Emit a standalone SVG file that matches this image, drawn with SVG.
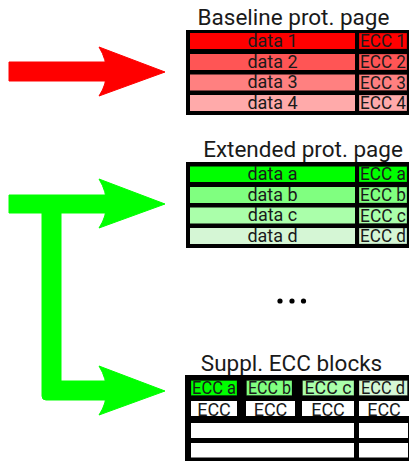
<svg xmlns="http://www.w3.org/2000/svg" width="409" height="461" viewBox="0 0 409 461">
<style>
text{font-family:Roboto,"Liberation Sans",sans-serif;fill:#1a1a1a}
.title{font-size:22.5px;text-anchor:middle}
.cell{font-size:18px;text-anchor:middle}
.big{font-size:17.5px;text-anchor:middle}
.frame{fill:#000}
.ecc{stroke:#000;stroke-opacity:.35;stroke-width:.8}
.w{fill:#fff}
</style>
<rect width="409" height="461" fill="#fff"/>
<g id="connectors">
  <g id="red-arrow" fill="#ff0000" stroke="#ff0000" stroke-width="1" stroke-linejoin="round">
    <rect x="9" y="62" width="97" height="19"/>
    <path d="M99,47 L165,72 L99,96 Q107,84 106,72 Q107,60 99,47 Z"/>
  </g>
  <g id="green-arrows" fill="#00ff00" stroke="#00ff00" stroke-width="1" stroke-linejoin="round">
    <rect x="9" y="195" width="97" height="18"/>
    <path d="M42,213 H61 V381 H106 V400 H46 Q42,400 42,396 Z"/>
    <path d="M99,179 L165,204 L99,228 Q107,216 106,204 Q107,192 99,179 Z"/>
    <path d="M99,366 L165,391 L99,415 Q107,403 106,391 Q107,379 99,366 Z"/>
  </g>
</g>
<g id="baseline-page">
  <text class="title" x="293.5" y="25">Baseline prot. page</text>
  <rect class="frame" x="186" y="30" width="223" height="85"/>
  <rect x="190" y="33" width="165" height="16" fill="#ff0000"/>
  <rect x="190" y="54" width="165" height="16" fill="#ff5555"/>
  <rect x="190" y="74.5" width="165" height="16" fill="#ff8080"/>
  <rect x="190" y="95" width="165" height="16" fill="#ffaaaa"/>
  <rect class="ecc" x="359" y="33" width="48" height="16" fill="#ff0000"/>
  <rect class="ecc" x="359" y="54" width="48" height="16" fill="#ff5555"/>
  <rect class="ecc" x="359" y="74.5" width="48" height="16" fill="#ff8080"/>
  <rect class="ecc" x="359" y="95" width="48" height="16" fill="#ffaaaa"/>
  <text class="cell" x="272.5" y="46.5">data 1</text>
  <text class="cell" x="272.5" y="67.5">data 2</text>
  <text class="cell" x="272.5" y="88">data 3</text>
  <text class="cell" x="272.5" y="108.5">data 4</text>
  <text class="cell" x="383" y="47" textLength="46" lengthAdjust="spacingAndGlyphs">ECC 1</text>
  <text class="cell" x="383" y="68" textLength="46" lengthAdjust="spacingAndGlyphs">ECC 2</text>
  <text class="cell" x="383" y="88.5" textLength="46" lengthAdjust="spacingAndGlyphs">ECC 3</text>
  <text class="cell" x="383" y="109" textLength="46" lengthAdjust="spacingAndGlyphs">ECC 4</text>
</g>
<g id="extended-page">
  <text class="title" x="303" y="157">Extended prot. page</text>
  <rect class="frame" x="186" y="162" width="223" height="86"/>
  <rect x="190" y="166.5" width="165" height="15.5" fill="#00ff00"/>
  <rect x="190" y="187" width="165" height="16" fill="#80ff80"/>
  <rect x="190" y="207.5" width="165" height="16" fill="#aaffaa"/>
  <rect x="190" y="228" width="165" height="16" fill="#d5f6d5"/>
  <rect class="ecc" x="359" y="166.5" width="48" height="15.5" fill="#00ff00"/>
  <rect class="ecc" x="359" y="187" width="48" height="16" fill="#80ff80"/>
  <rect class="ecc" x="359" y="207.5" width="48" height="16" fill="#aaffaa"/>
  <rect class="ecc" x="359" y="228" width="48" height="16" fill="#d5f6d5"/>
  <text class="cell" x="272.5" y="179.5">data a</text>
  <text class="cell" x="272.5" y="200.5">data b</text>
  <text class="cell" x="272.5" y="221">data c</text>
  <text class="cell" x="272.5" y="241.5">data d</text>
  <text class="cell" x="383" y="180" textLength="46" lengthAdjust="spacingAndGlyphs">ECC a</text>
  <text class="cell" x="383" y="201" textLength="46" lengthAdjust="spacingAndGlyphs">ECC b</text>
  <text class="cell" x="383" y="221.5" textLength="46" lengthAdjust="spacingAndGlyphs">ECC c</text>
  <text class="cell" x="383" y="242" textLength="46" lengthAdjust="spacingAndGlyphs">ECC d</text>
</g>
<g id="ellipsis" fill="#000">
  <circle cx="280" cy="301" r="2.6"/>
  <circle cx="292" cy="301" r="2.6"/>
  <circle cx="303.5" cy="301" r="2.6"/>
</g>
<g id="suppl-ecc-blocks">
  <text class="title" x="291.5" y="371">Suppl. ECC blocks</text>
  <rect class="frame" x="185" y="375" width="224" height="86"/>
  <rect class="ecc" x="191" y="380.5" width="46" height="15" fill="#00ff00"/>
  <rect class="ecc" x="246.5" y="380.5" width="45.5" height="15" fill="#80ff80"/>
  <rect class="ecc" x="302.5" y="380.5" width="51.5" height="15" fill="#aaffaa"/>
  <rect class="ecc" x="359" y="380.5" width="48.5" height="15" fill="#d5f6d5"/>
  <text class="big" x="214" y="394" textLength="44" lengthAdjust="spacingAndGlyphs">ECC a</text>
  <text class="big" x="269.5" y="394" textLength="43" lengthAdjust="spacingAndGlyphs">ECC b</text>
  <text class="big" x="328" y="394" textLength="47" lengthAdjust="spacingAndGlyphs">ECC c</text>
  <text class="big" x="383" y="394" textLength="44" lengthAdjust="spacingAndGlyphs">ECC d</text>
  <rect class="w" x="191" y="401" width="46" height="15"/>
  <rect class="w" x="246" y="401" width="49" height="15"/>
  <rect class="w" x="302" y="401" width="52" height="15"/>
  <rect class="w" x="359" y="401" width="50" height="15"/>
  <text class="cell" x="214" y="416">ECC</text>
  <text class="cell" x="270.5" y="416">ECC</text>
  <text class="cell" x="328" y="416">ECC</text>
  <text class="cell" x="384" y="416">ECC</text>
  <rect class="w" x="191" y="423" width="163" height="15"/>
  <rect class="w" x="359" y="423" width="49" height="15"/>
  <rect class="w" x="191" y="443" width="163" height="14.5"/>
  <rect class="w" x="359" y="443" width="49" height="14.5"/>
</g>
</svg>
